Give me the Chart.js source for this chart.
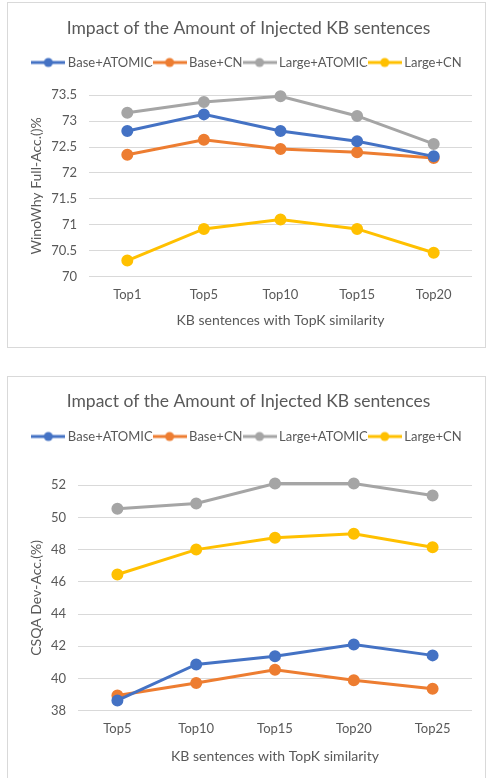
<!DOCTYPE html>
<html>
<head>
<meta charset="utf-8">
<script src="https://cdn.jsdelivr.net/npm/chart.js@4.4.1/dist/chart.umd.min.js"></script>
<style>
  body { margin: 0; background: #fff; width: 486px; height: 778px; overflow: hidden; position: relative; }
  .box { position: absolute; left: 7px; width: 477px; border: 1px solid #d9d9d9; background: #fff; }
  #box1 { top: 2px; height: 344px; }
  #box2 { top: 376px; height: 410px; }
</style>
</head>
<body>
<div class="box" id="box1"><canvas id="chart1"></canvas></div>
<div class="box" id="box2"><canvas id="chart2"></canvas></div>
<script>
// WinoWhy chart
const topK1 = ["Top1", "Top5", "Top10", "Top15", "Top20"];
const winoBaseAtomic = [72.81, 73.13, 72.81, 72.61, 72.32];
const winoBaseCN = [72.35, 72.64, 72.46, 72.40, 72.29];
const winoLargeAtomic = [73.16, 73.37, 73.48, 73.10, 72.56];
const winoLargeCN = [70.31, 70.92, 71.10, 70.92, 70.46];

// CSQA chart
const topK2 = ["Top5", "Top10", "Top15", "Top20", "Top25"];
const csqaBaseAtomic = [38.63, 40.87, 41.37, 42.11, 41.43];
const csqaBaseCN = [38.94, 39.71, 40.53, 39.88, 39.35];
const csqaLargeAtomic = [50.53, 50.86, 52.10, 52.10, 51.36];
const csqaLargeCN = [46.45, 48.00, 48.73, 48.98, 48.15];

const seriesNames = ["Base+ATOMIC", "Base+CN", "Large+ATOMIC", "Large+CN"];
const seriesColors = ["#4472C4", "#ED7D31", "#A5A5A5", "#FFC000"];

const FONT = "Lato, 'Open Sans', sans-serif";
const TXT = "#595959";

function legendIcon(color) {
  const c = document.createElement("canvas");
  c.width = 34; c.height = 12;
  const g = c.getContext("2d");
  g.strokeStyle = color; g.lineWidth = 3;
  g.beginPath(); g.moveTo(0, 6); g.lineTo(34, 6); g.stroke();
  g.fillStyle = color;
  g.beginPath(); g.arc(17, 6, 4.5, 0, Math.PI * 2); g.fill();
  return c;
}
const icons = seriesColors.map(legendIcon);

function makeChart(id, w, h, labels, values, yMin, yMax, yStep, yTitle, yWidth, pad) {
  const cv = document.getElementById(id);
  cv.width = w; cv.height = h;
  cv.style.width = w + "px"; cv.style.height = h + "px";
  return new Chart(cv, {
    type: 'line',
    data: {
      labels: labels,
      datasets: values.map((d, i) => ({
        label: seriesNames[i],
        data: d,
        borderColor: seriesColors[i],
        backgroundColor: seriesColors[i],
        borderWidth: 3,
        pointRadius: 4.5,
        pointHoverRadius: 4.5,
        tension: 0,
        clip: false
      }))
    },
    options: {
      responsive: false,
      animation: false,
      layout: { padding: { left: 4, right: 0, top: 0, bottom: pad.bottom } },
      plugins: {
        title: {
          display: true,
          text: "Impact of the Amount of Injected KB sentences",
          color: TXT,
          font: { family: FONT, size: 17.5, weight: 'normal' },
          padding: { top: pad.titleTop, bottom: pad.titleBottom }
        },
        // blank spacer placed below the legend
        subtitle: {
          display: true,
          text: " ",
          weight: 500,
          font: { size: 1 },
          padding: { top: pad.gap, bottom: 0 }
        },
        legend: {
          labels: {
            color: TXT,
            font: { family: FONT, size: 13 },
            usePointStyle: true,
            pointStyleWidth: 26,
            boxHeight: 12,
            padding: 4,
            generateLabels: function(chart) {
              const items = Chart.defaults.plugins.legend.labels.generateLabels(chart);
              items.forEach((it, i) => { it.pointStyle = icons[i]; });
              return items;
            }
          }
        },
        tooltip: { enabled: false }
      },
      scales: {
        x: {
          offset: true,
          grid: { display: false, drawTicks: false },
          border: { display: false },
          ticks: { color: TXT, font: { family: FONT, size: 13 }, padding: 10 },
          title: {
            display: true,
            text: "KB sentences with TopK similarity",
            color: TXT,
            font: { family: FONT, size: 14 },
            padding: { top: pad.xTitle, bottom: 0 }
          }
        },
        y: {
          min: yMin, max: yMax,
          afterFit: function(s) { s.width = yWidth; },
          grid: { color: "#d9d9d9", drawTicks: false },
          border: { display: false },
          ticks: {
            stepSize: yStep, color: TXT, font: { family: FONT, size: 13 }, padding: 12,
            callback: v => String(Number(v.toFixed(1)))
          },
          title: {
            display: true,
            text: yTitle,
            color: TXT,
            font: { family: FONT, size: 14 },
            padding: { top: 16, bottom: 0 }
          }
        },
        // empty right margin so the plot ends where the reference does
        yRight: {
          position: 'right',
          afterFit: function(s) { s.width = 13; },
          grid: { display: false, drawTicks: false },
          border: { display: false },
          ticks: { display: false }
        }
      }
    }
  });
}

makeChart("chart1", 477, 344, topK1,
  [winoBaseAtomic, winoBaseCN, winoLargeAtomic, winoLargeCN],
  70, 73.5, 0.5, "WinoWhy Full-Acc.()%", 77,
  { titleTop: 15, titleBottom: 13, gap: 15, xTitle: 0, bottom: 18 });

makeChart("chart2", 477, 410, topK2,
  [csqaBaseAtomic, csqaBaseCN, csqaLargeAtomic, csqaLargeCN],
  38, 52, 2, "CSQA Dev-Acc.(%)", 66,
  { titleTop: 14, titleBottom: 14, gap: 31, xTitle: 2, bottom: 22 });
</script>
</body>
</html>
